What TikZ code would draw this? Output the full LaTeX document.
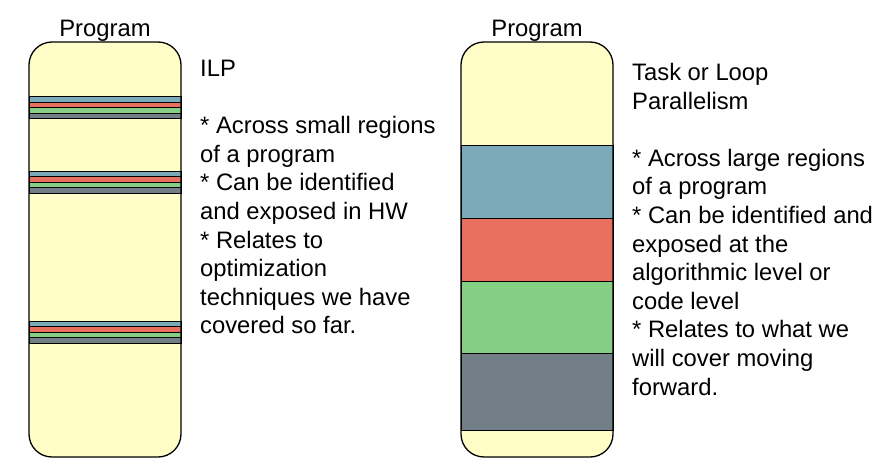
\documentclass[tikz,border=0pt]{standalone}
\usepackage{fontspec}
\setmainfont{Liberation Sans}
\definecolor{progyellow}{RGB}{255,253,200}
\definecolor{taskblue}{RGB}{123,170,185}
\definecolor{taskred}{RGB}{232,112,94}
\definecolor{taskgreen}{RGB}{133,207,133}
\definecolor{taskgray}{RGB}{114,127,135}

\begin{document}
\begin{tikzpicture}[x=1pt,y=-1pt,
    txt/.style={font=\fontsize{23.8}{28.6}\selectfont,inner sep=0pt},
    band/.style={draw=black,line width=1pt},
    outline/.style={line width=1.3pt,rounded corners=23pt}]
  \useasboundingbox (0,0) rectangle (891,476);
  % left program: thin ILP stripes
  \fill[progyellow,rounded corners=23pt] (29,42) rectangle (181,457);
  \foreach \y in {97,171,321}{
    \foreach \c [count=\i from 0] in {taskblue,taskred,taskgreen,taskgray}
      \filldraw[band,fill=\c] (29,\y+5.5*\i) rectangle (181,\y+5.5*\i+5.5);
  }
  \draw[outline] (29,42) rectangle (181,457);
  % right program: large regions
  \fill[progyellow,rounded corners=23pt] (461,42) rectangle (613,457);
  \filldraw[band,fill=taskblue] (461,145) rectangle (613,218);
  \filldraw[band,fill=taskred] (461,218) rectangle (613,281);
  \filldraw[band,fill=taskgreen] (461,281) rectangle (613,353);
  \filldraw[band,fill=taskgray] (461,353) rectangle (613,430);
  \draw[outline] (461,42) rectangle (613,457);
  % labels
  \node[txt,anchor=base] (lefttitle) at (105,37) {Program};
  \node[txt,anchor=base] (righttitle) at (537,37) {Program};
  \node[txt,anchor=north west,align=left] (ilpnote) at (200,60)
    {ILP\\[28.6pt]* Across small regions\\of a program\\{}* Can be identified\\and exposed in HW\\{}* Relates to\\optimization\\techniques we have\\covered so far.};
  \node[txt,anchor=north west,align=left] (tasknote) at (632,63)
    {Task or Loop\\Parallelism\\[28.6pt]* Across large regions\\of a program\\{}* Can be identified and\\exposed at the\\algorithmic level or\\code level\\{}* Relates to what we\\will cover moving\\forward.};
\end{tikzpicture}
\end{document}
